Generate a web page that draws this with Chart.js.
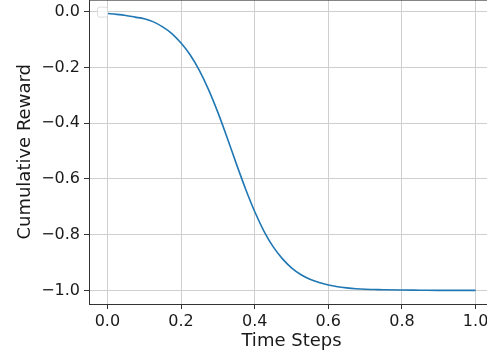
<!DOCTYPE html>
<html>
<head>
<meta charset="utf-8">
<script src="https://cdn.jsdelivr.net/npm/chart.js@4/dist/chart.umd.min.js"></script>
<style>
  html, body { margin: 0; padding: 0; overflow: hidden; background: #fff; }
  #wrap { position: relative; width: 487px; height: 356px; overflow: hidden; }
  #c { position: absolute; left: 0; top: -14px; }
</style>
</head>
<body>
<div id="wrap"><canvas id="c" width="530" height="370"></canvas></div>
<script>
// 資料
const timeSteps = [0, 0.025, 0.05, 0.075, 0.1, 0.125, 0.15, 0.175, 0.2, 0.225, 0.25, 0.275, 0.3, 0.325, 0.35, 0.375, 0.4, 0.425, 0.45, 0.475, 0.5, 0.525, 0.55, 0.575, 0.6, 0.625, 0.65, 0.675, 0.7, 0.725, 0.75, 0.8, 0.85, 0.9, 1.0];
const cumulativeReward = [-0.006, -0.009, -0.013, -0.019, -0.025, -0.036, -0.054, -0.078, -0.112, -0.155, -0.211, -0.280, -0.361, -0.451, -0.545, -0.635, -0.717, -0.787, -0.843, -0.886, -0.919, -0.943, -0.960, -0.972, -0.981, -0.987, -0.991, -0.994, -0.996, -0.997, -0.998, -0.999, -0.9995, -1.0, -1.0];
const xTicks = [0, 0.2, 0.4, 0.6, 0.8, 1.0];
const xTickLabels = ['0.0', '0.2', '0.4', '0.6', '0.8', '1.0'];
const yTicks = [0, -0.2, -0.4, -0.6, -0.8, -1.0];
const yTickLabels = ['0.0', '\u22120.2', '\u22120.4', '\u22120.6', '\u22120.8', '\u22121.0'];

const font = 'DejaVu Sans';
const gridColor = '#cfcfcf';

// 上框線 + 空圖例框
const framePlugin = {
    id: 'frame',
    afterDatasetsDraw(chart) {
        const { ctx, chartArea: a } = chart;
        ctx.save();
        ctx.strokeStyle = '#333';
        ctx.lineWidth = 1;
        ctx.beginPath();
        ctx.moveTo(a.left, a.top + 0.5);
        ctx.lineTo(a.right, a.top + 0.5);
        ctx.stroke();
        // 空的圖例框
        const x = a.left + 8, y = a.top + 7, s = 10, r = 2;
        ctx.fillStyle = 'rgba(255,255,255,0.8)';
        ctx.strokeStyle = '#dcdcdc';
        ctx.beginPath();
        ctx.roundRect(x + 0.5, y + 0.5, s, s, r);
        ctx.fill();
        ctx.stroke();
        ctx.restore();
    }
};

function initChart() {
    const ctx = document.getElementById('c').getContext('2d');
    new Chart(ctx, {
        type: 'line',
        data: {
            datasets: [{
                data: timeSteps.map((t, i) => ({ x: t, y: cumulativeReward[i] })),
                borderColor: '#1f77b4',
                borderWidth: 1.6,
                pointRadius: 0,
                cubicInterpolationMode: 'monotone',
                fill: false
            }]
        },
        options: {
            responsive: false,
            animation: false,
            devicePixelRatio: 1,
            layout: { padding: { top: 0, right: 36, left: 0, bottom: 0 } },
            plugins: { legend: { display: false }, tooltip: { enabled: false } },
            scales: {
                x: {
                    type: 'linear',
                    min: -0.05,
                    max: 1.05,
                    afterBuildTicks: s => { s.ticks = xTicks.map(v => ({ value: v })); },
                    afterFit: s => { s.height = 52; },
                    ticks: {
                        color: '#1a1a1a',
                        font: { family: font, size: 16 },
                        padding: 3,
                        maxRotation: 0,
                        callback: (v) => xTickLabels[xTicks.indexOf(v)]
                    },
                    grid: { color: gridColor, lineWidth: 1, tickColor: '#333', tickLength: 5 },
                    border: { color: '#333', width: 1 },
                    title: { display: true, text: 'Time Steps', color: '#1a1a1a', font: { family: font, size: 18 }, padding: { top: 0, bottom: 4 } }
                },
                y: {
                    type: 'linear',
                    min: -1.049,
                    max: 0.044,
                    afterBuildTicks: s => { s.ticks = yTicks.map(v => ({ value: v })); },
                    afterFit: s => { s.width = 89; },
                    ticks: {
                        color: '#1a1a1a',
                        font: { family: font, size: 16 },
                        padding: 4,
                        callback: (v) => yTickLabels[yTicks.indexOf(v)]
                    },
                    grid: { color: gridColor, lineWidth: 1, tickColor: '#333', tickLength: 5 },
                    border: { color: '#333', width: 1 },
                    title: { display: true, text: 'Cumulative Reward', color: '#1a1a1a', font: { family: font, size: 18 }, padding: { top: 15, bottom: 0 } }
                }
            }
        },
        plugins: [framePlugin]
    });
}

document.addEventListener('DOMContentLoaded', initChart);
</script>
</body>
</html>
